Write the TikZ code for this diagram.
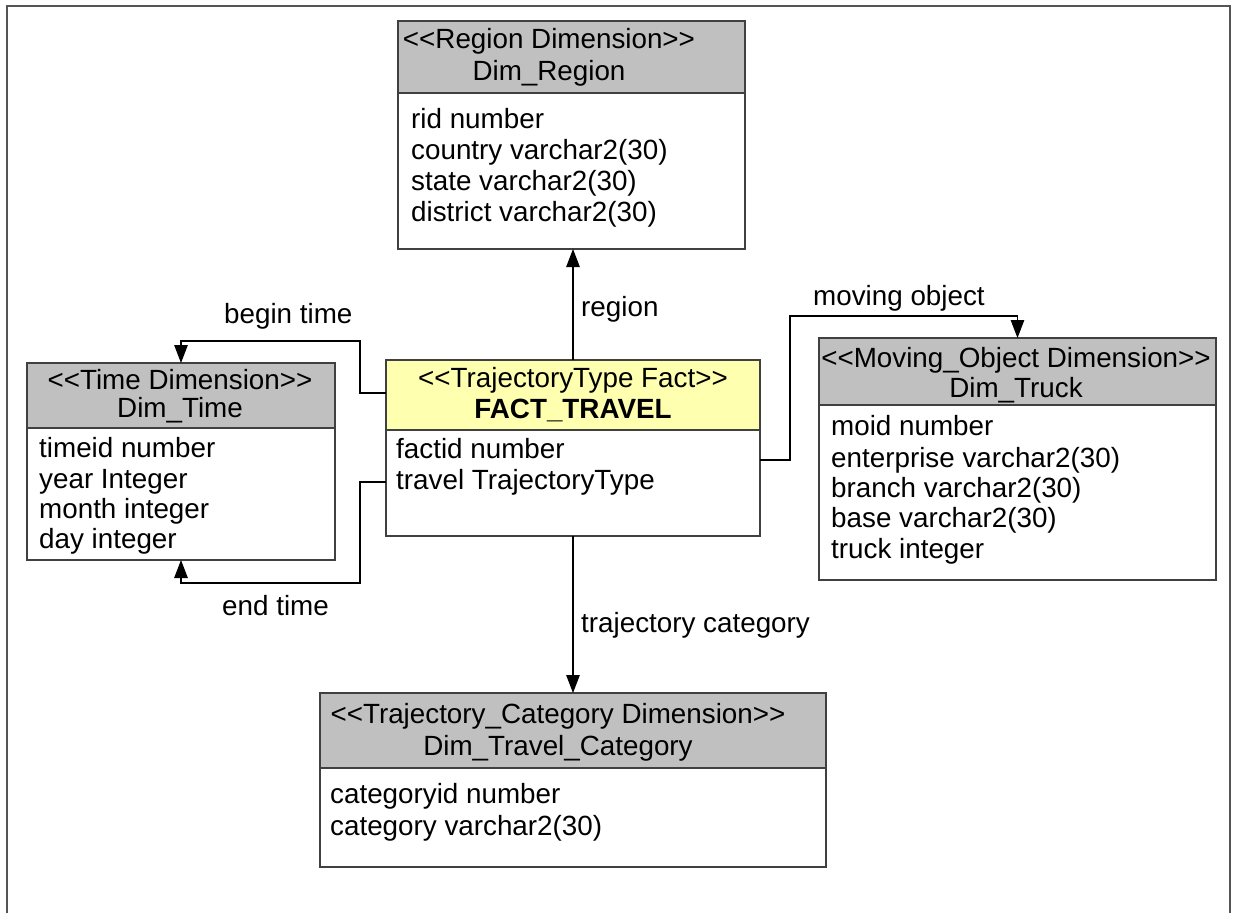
\documentclass[tikz,border=0pt]{standalone}
\usepackage{fontspec}
\setmainfont{Liberation Sans}[Ligatures=TeXOff]
\usetikzlibrary{arrows.meta}
\definecolor{hdrgray}{HTML}{C0C0C0}
\definecolor{factyellow}{HTML}{FFFFB0}
\definecolor{edgegray}{HTML}{404040}
\definecolor{framegray}{HTML}{555555}
\begin{document}
\begin{tikzpicture}[x=1pt,y=-1pt,
  tbl/.style={draw=edgegray, line width=1.4pt, rectangle, inner sep=0pt, outer sep=0pt, anchor=north west},
  sepline/.style={draw=edgegray, line width=1.4pt},
  txt/.style={inner sep=0pt, anchor=base west, font=\fontsize{27.8}{32}\selectfont},
  ttl/.style={inner sep=0pt, anchor=base, font=\fontsize{27.8}{32}\selectfont},
  conn/.style={draw=black, line width=1.1pt},
  arr/.style={conn, -{Triangle[length=18pt,width=13.5pt]}},
  frameline/.style={draw=framegray, line width=1.4pt},
]
\useasboundingbox (0,0) rectangle (1235,913);
\draw[frameline] (7,913) -- (7,6) -- (1230,6) -- (1230,913);

% ---- Dim_Region
\fill[hdrgray] (398,21) rectangle (745,93);
\draw[sepline] (398,93) -- (745,93);
\node[tbl, minimum width=347pt, minimum height=228pt] (region) at (398,21) {};
\node[ttl] (regionT1) at (549,48) {<<Region Dimension>>};
\node[ttl] (regionT2) at (549,80) {Dim\_Region};
\node[txt] (regionA1) at (411,128) {rid number};
\node[txt] (regionA2) at (411,159) {country varchar2(30)};
\node[txt] (regionA3) at (411,190) {state varchar2(30)};
\node[txt] (regionA4) at (411,221) {district varchar2(30)};

% ---- FACT_TRAVEL
\fill[factyellow] (386,360) rectangle (760,430);
\draw[sepline] (386,430) -- (760,430);
\node[tbl, minimum width=374pt, minimum height=176pt] (fact) at (386,360) {};
\node[ttl] (factT1) at (573,387) {<<TrajectoryType Fact>>};
\node[ttl] (factT2) at (573,418) {\bfseries FACT\_TRAVEL};
\node[txt] (factA1) at (396,458) {factid number};
\node[txt] (factA2) at (396,489) {travel TrajectoryType};

% ---- Dim_Time
\fill[hdrgray] (27,363) rectangle (335,428);
\draw[sepline] (27,428) -- (335,428);
\node[tbl, minimum width=308pt, minimum height=197pt] (time) at (27,363) {};
\node[ttl] (timeT1) at (180,389) {<<Time Dimension>>};
\node[ttl] (timeT2) at (180,417) {Dim\_Time};
\node[txt] (timeA1) at (39,457) {timeid number};
\node[txt] (timeA2) at (39,488) {year Integer};
\node[txt] (timeA3) at (39,518) {month integer};
\node[txt] (timeA4) at (39,548) {day integer};

% ---- Dim_Truck
\fill[hdrgray] (819,338) rectangle (1216,405);
\draw[sepline] (819,405) -- (1216,405);
\node[tbl, minimum width=397pt, minimum height=242pt] (truck) at (819,338) {};
\node[ttl] (truckT1) at (1016,367) {<<Moving\_Object Dimension>>};
\node[ttl] (truckT2) at (1016,397) {Dim\_Truck};
\node[txt] (truckA1) at (831,435) {moid number};
\node[txt] (truckA2) at (831,467) {enterprise varchar2(30)};
\node[txt] (truckA3) at (831,497) {branch varchar2(30)};
\node[txt] (truckA4) at (831,527) {base varchar2(30)};
\node[txt] (truckA5) at (831,558) {truck integer};

% ---- Dim_Travel_Category
\fill[hdrgray] (320,693) rectangle (826,768);
\draw[sepline] (320,768) -- (826,768);
\node[tbl, minimum width=506pt, minimum height=174pt] (cat) at (320,693) {};
\node[ttl] (catT1) at (558,723) {<<Trajectory\_Category Dimension>>};
\node[ttl] (catT2) at (558,755) {Dim\_Travel\_Category};
\node[txt] (catA1) at (330,803) {categoryid number};
\node[txt] (catA2) at (330,835) {category varchar2(30)};

% ---- associations
\draw[arr] (fact.north) -- (fact.north |- region.south);
\node[txt] (lblRegion) at (581,316) {region};

\draw[arr] (fact.west |- 0,393) -| (360,341) -| (time.north);
\node[txt] (lblBegin) at (224,323) {begin time};

\draw[arr] (fact.west |- 0,482) -| (360,583) -| (time.south);
\node[txt] (lblEnd) at (222,615) {end time};

\draw[arr] (fact.east |- 0,460) -| (790,316) -| (truck.north);
\node[txt] (lblMoving) at (813,305) {moving object};

\draw[arr] (fact.south) -- (fact.south |- cat.north);
\node[txt] (lblCat) at (581,632) {trajectory category};
\end{tikzpicture}
\end{document}
